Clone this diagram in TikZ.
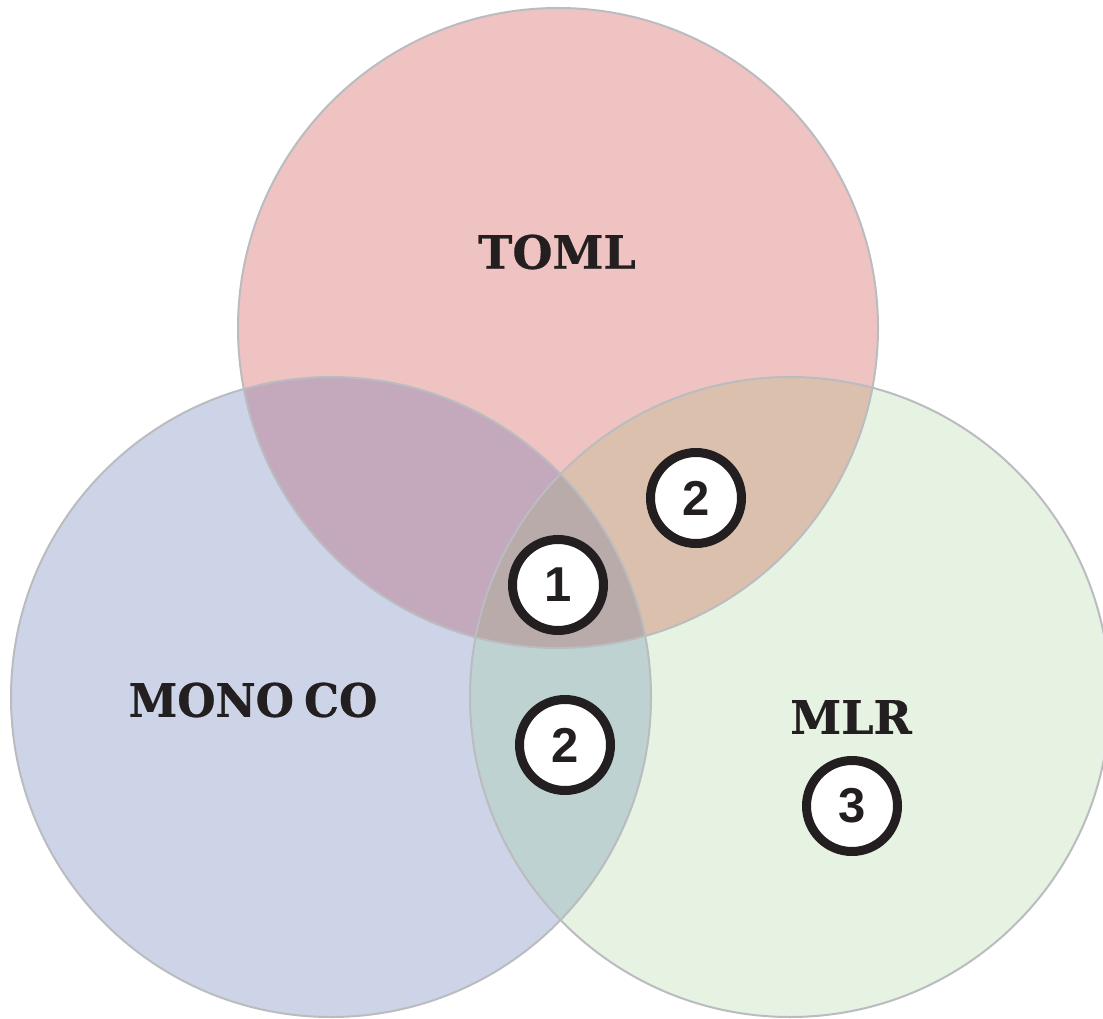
\documentclass[tikz,border=0pt]{standalone}
\usepackage{fontspec}
\setmainfont{DejaVu Serif}
\newfontfamily\numfont{Liberation Sans}
\newfontfamily\labfont[FakeBold=0.6]{DejaVu Serif Bold}
\newfontfamily\labfontn[FakeBold=0.6,FakeStretch=0.955]{DejaVu Serif Bold}
\definecolor{ctoml}{HTML}{F0C3C3}
\definecolor{cmono}{HTML}{CED4E7}
\definecolor{cmlr}{HTML}{E6F2E2}
\definecolor{ctm}{HTML}{C4A9BD}
\definecolor{ctl}{HTML}{DCC0AE}
\definecolor{cml}{HTML}{BDD2D1}
\definecolor{call}{HTML}{B8ABA9}
\definecolor{edge}{HTML}{BABCC0}
\definecolor{ink}{HTML}{231F20}
\begin{document}
\begin{tikzpicture}[x=1pt,y=-1pt,
  setlabel/.style={text=ink, font=\labfont\fontsize{46}{46}\selectfont, inner sep=0},
  badge/.style={circle, draw=ink, line width=9pt, fill=white, minimum size=91pt, inner sep=0, text=ink, font=\numfont\bfseries\fontsize{49}{49}\selectfont},
  ring/.style={circle, draw=edge, line width=2pt, minimum size=640pt, inner sep=0}]
\useasboundingbox (0,0) rectangle (1103,1019);
\begin{scope}
\clip (0,0) rectangle (1103,1019);
% base fills
\fill[ctoml] (558,328) circle[radius=320];
\fill[cmono] (331,697) circle[radius=320];
\fill[cmlr] (790,697) circle[radius=320];
% pairwise overlaps
\begin{scope}
  \clip (558,328) circle[radius=320];
  \fill[ctm] (331,697) circle[radius=320];
  \fill[ctl] (790,697) circle[radius=320];
\end{scope}
\begin{scope}
  \clip (331,697) circle[radius=320];
  \fill[cml] (790,697) circle[radius=320];
\end{scope}
\begin{scope}
  \clip (558,328) circle[radius=320];
  \clip (331,697) circle[radius=320];
  \fill[call] (790,697) circle[radius=320];
\end{scope}
% outlines
\node[ring] (toml) at (558,328) {};
\node[ring] (mono) at (331,697) {};
\node[ring] (mlr) at (790,697) {};
\end{scope}
% labels
\node[setlabel] (ltoml) at (557,252) {TOML};
\node[setlabel, font=\labfontn\fontsize{46}{46}\selectfont] (lmono) at (253,700) {MONO\hspace{0.22em}CO};
\node[setlabel] (lmlr) at (851,717) {MLR};
% badges
\node[badge] (b2a) at (696,498) {2};
\node[badge] (b1) at (558,585) {1};
\node[badge] (b2b) at (565,745) {2};
\node[badge] (b3) at (852,806) {3};
\end{tikzpicture}
\end{document}
